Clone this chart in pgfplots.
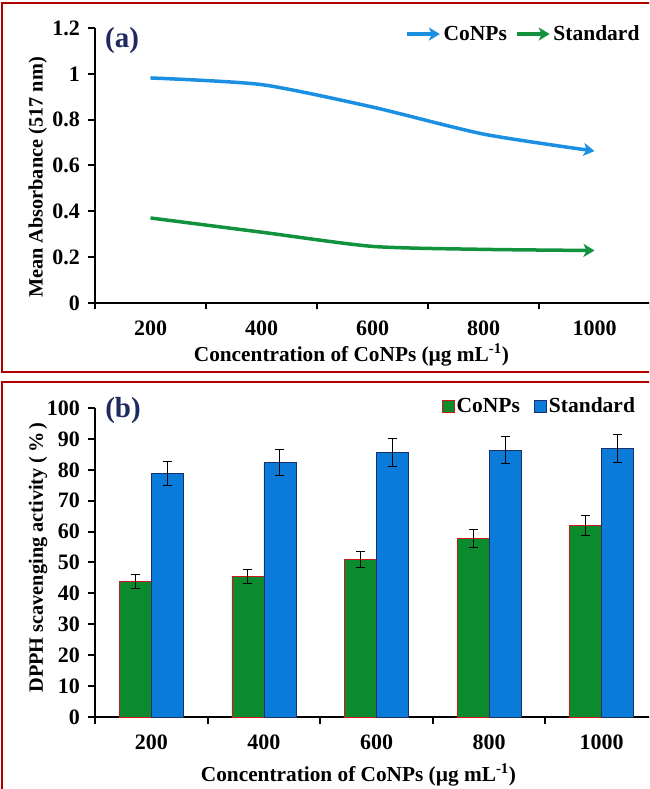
\documentclass[border=0pt]{standalone}
\usepackage{pgfplots}
\pgfplotsset{compat=1.18}
\usepackage{fontspec}
\setmainfont{Liberation Serif}
\usetikzlibrary{arrows.meta}
\definecolor{lblue}{HTML}{1B8FE2}
\definecolor{lgreen}{HTML}{12923D}
\definecolor{bgreen}{HTML}{0B8A2E}
\definecolor{bblue}{HTML}{0A7BD9}
\definecolor{bred}{HTML}{D01818}
\definecolor{bnavy}{HTML}{1B2F6B}
\definecolor{pnavy}{HTML}{1F2A60}
\definecolor{border}{HTML}{B00000}
\newcommand{\tickfont}{\fontsize{22pt}{24pt}\selectfont\bfseries}
\newcommand{\legfont}{\fontsize{21.5pt}{24pt}\selectfont\bfseries}
\newcommand{\xlabfont}{\fontsize{21.3pt}{24pt}\selectfont\bfseries}
\newcommand{\ylabfont}{\fontsize{20.3pt}{23pt}\selectfont\bfseries}
\newcommand{\panfont}{\fontsize{29pt}{31pt}\selectfont\bfseries}
\pgfplotsset{
  myaxis/.style={
    scale only axis,
    axis lines=left,
    axis line style={line width=2.5pt,-},
    tick style={line width=2pt,black},
    major tick length=6.5pt,
    tick align=outside,
    xmin=-0.5, xmax=4.5,
    xtick={-0.5,0.5,1.5,2.5,3.5,4.5},
    x tick label as interval,
    xticklabels={200,400,600,800,1000,},
    ticklabel style={font=\tickfont},
    xticklabel style={yshift=-8pt},
    yticklabel style={xshift=-5pt},
    /pgf/number format/assume math mode=true,
    xlabel style={font=\xlabfont},
    ylabel style={font=\ylabfont},
    clip=false,
  }
}
\begin{document}
\begin{tikzpicture}
\useasboundingbox (0pt,0pt) rectangle (649pt,789pt);
\clip (0pt,0pt) rectangle (649pt,789pt);
\draw[border, line width=2.5pt] (2pt,417pt) rectangle (700pt,786pt);
\draw[border, line width=2.5pt] (2pt,-20pt) rectangle (700pt,407pt);

% Panel (a)
\begin{axis}[myaxis,
  at={(95pt,486pt)}, anchor=south west,
  width=555pt, height=275pt,
  ymin=0, ymax=1.2,
  ytick={0,0.2,0.4,0.6,0.8,1,1.2},
  yticklabel style={/pgf/number format/fixed,/pgf/number format/precision=1},
  xlabel={Concentration of CoNPs (µg mL\textsuperscript{-1})},
  ylabel={Mean Absorbance (517 nm)},
  xlabel style={at={(axis description cs:0.462,-0.189)}, anchor=center},
  ylabel style={at={(axis description cs:-0.103,0.456)}, anchor=center},
  legend columns=2,
  legend style={draw=none, fill=none, font=\legfont, anchor=east,
    at={(rel axis cs:0.985,0.978)}, inner sep=0pt,
    /tikz/every even column/.append style={column sep=6pt}},
]
\addplot[lblue, line width=3.5pt, smooth, tension=0.4, -{Stealth[length=11pt,width=13pt,inset=3pt]},
  legend image code/.code={\draw[lblue, line width=3.5pt, -{Stealth[length=11pt,width=13pt,inset=3pt]}] (0pt,0pt) -- (33pt,0pt);}]
  coordinates {(0,0.982) (1,0.953) (2,0.855) (3,0.737) (4,0.663)};
\addlegendentry{CoNPs}
\addplot[lgreen, line width=3.5pt, smooth, tension=0.4, -{Stealth[length=11pt,width=13pt,inset=3pt]},
  legend image code/.code={\draw[lgreen, line width=3.5pt, -{Stealth[length=11pt,width=13pt,inset=3pt]}] (0pt,0pt) -- (33pt,0pt);}]
  coordinates {(0,0.371) (1,0.309) (2,0.247) (3,0.234) (4,0.229)};
\addlegendentry{Standard}
\node[anchor=west, text=pnavy, font=\panfont] at (rel axis cs:0.012,0.956) {(a)};
\end{axis}

% Panel (b)
\begin{axis}[myaxis,
  at={(95pt,72pt)}, anchor=south west,
  width=563pt, height=309pt,
  ymin=0, ymax=100,
  ytick={0,10,20,30,40,50,60,70,80,90,100},
  ybar=0pt, bar width=32pt,
  xlabel={Concentration of CoNPs (µg mL\textsuperscript{-1})},
  ylabel={DPPH scavenging activity (\,\%\,)},
  xlabel style={at={(axis description cs:0.468,-0.188)}, anchor=center},
  ylabel style={at={(axis description cs:-0.101,0.516)}, anchor=center},
  legend columns=2,
  legend style={draw=none, fill=none, font=\legfont, anchor=east,
    at={(rel axis cs:0.963,1.006)}, inner sep=0pt,
    /tikz/every even column/.append style={column sep=12pt}},
]
\addplot[fill=bgreen, draw=bred, line width=0.8pt,
  legend image code/.code={\draw[fill=bgreen, draw=bred, line width=1pt] (0pt,-6pt) rectangle (12pt,6pt);},
  error bars/.cd, y dir=both, y explicit,
  error bar style={line width=1pt, black},
  error mark options={rotate=90, mark size=4.5pt, line width=1pt, black}]
  coordinates {(0,43.8) +- (0,2.3) (1,45.5) +- (0,2.3) (2,51.1) +- (0,2.6) (3,57.7) +- (0,2.9) (4,62.0) +- (0,3.3)};
\addlegendentry{CoNPs}
\addplot[fill=bblue, draw=bnavy, line width=0.8pt,
  legend image code/.code={\draw[fill=bblue, draw=bnavy, line width=1pt] (0pt,-6pt) rectangle (12pt,6pt);},
  error bars/.cd, y dir=both, y explicit,
  error bar style={line width=1pt, black},
  error mark options={rotate=90, mark size=4.5pt, line width=1pt, black}]
  coordinates {(0,78.8) +- (0,3.9) (1,82.3) +- (0,4.3) (2,85.7) +- (0,4.5) (3,86.4) +- (0,4.5) (4,86.9) +- (0,4.4)};
\addlegendentry{Standard}
\node[anchor=west, text=pnavy, font=\panfont] at (rel axis cs:0.012,0.993) {(b)};
\end{axis}
\end{tikzpicture}
\end{document}
